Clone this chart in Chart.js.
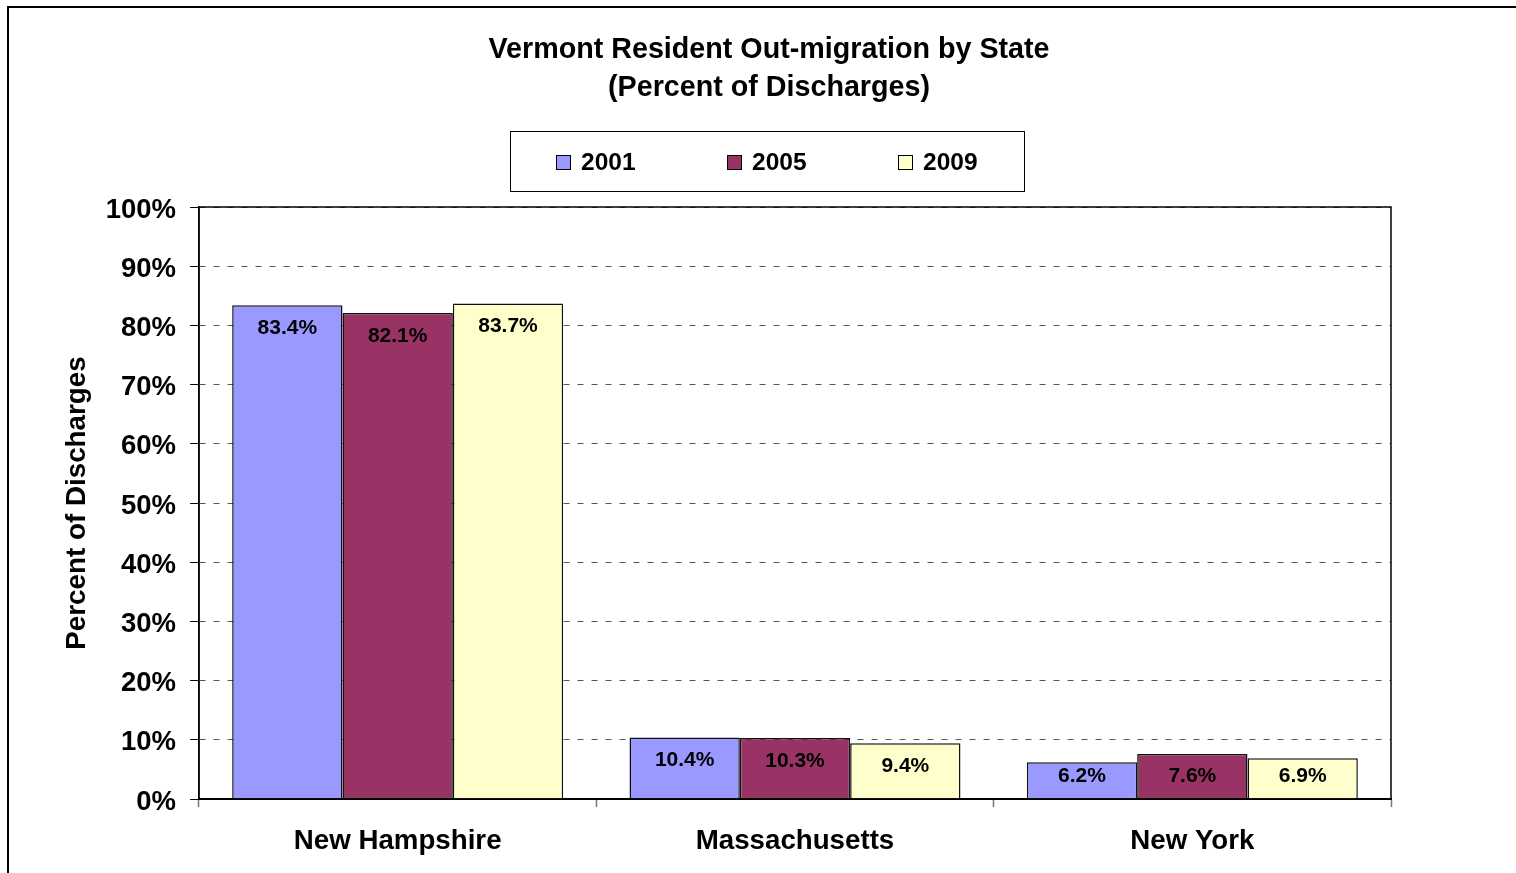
<!DOCTYPE html>
<html>
<head>
<meta charset="utf-8">
<script src="https://cdn.jsdelivr.net/npm/chart.js@4/dist/chart.umd.min.js"></script>
<style>
  html, body { margin: 0; padding: 0; background: #fff; overflow: hidden; }
  #wrap { position: relative; width: 1516px; height: 873px; }
</style>
</head>
<body>
<div id="wrap"><canvas id="chart"></canvas></div>
<script>
const categories = ['New Hampshire', 'Massachusetts', 'New York'];
const seriesNames = ['2001', '2005', '2009'];
const values2001 = [83.4, 10.4, 6.2];
const values2005 = [82.1, 10.3, 7.6];
const values2009 = [83.7, 9.4, 6.9];
const seriesColors = ['#9999FF', '#993366', '#FFFFCC'];
const titleLines = ['Vermont Resident Out-migration by State', '(Percent of Discharges)'];

const FONT = '"Liberation Sans", Arial, sans-serif';

// title, legend box, plot frame, value labels
const decor = {
    id: 'decor',
    beforeDraw(chart) {
        const ctx = chart.ctx;
        ctx.save();
        ctx.fillStyle = '#fff';
        ctx.fillRect(0, 0, chart.width, chart.height);
        ctx.strokeStyle = '#000';
        ctx.lineWidth = 2;
        ctx.strokeRect(8, 7, chart.width + 20, chart.height + 20);
        ctx.restore();
    },
    afterDatasetsDraw(chart) {
        const ctx = chart.ctx;
        const a = chart.chartArea;
        ctx.save();
        ctx.strokeStyle = '#000';
        ctx.lineWidth = 1.5;
        ctx.strokeRect(a.left, a.top, a.right - a.left, a.bottom - a.top);

        ctx.fillStyle = '#000';
        ctx.font = 'bold 21px ' + FONT;
        ctx.textAlign = 'center';
        ctx.textBaseline = 'middle';
        chart.data.datasets.forEach((ds, i) => {
            chart.getDatasetMeta(i).data.forEach((bar, j) => {
                // labels sit inside the bar, but never lower than 23px above the base
                const y = Math.min(bar.y + 23, a.bottom - 23);
                ctx.fillText(ds.data[j].toFixed(1) + '%', bar.x, y);
            });
        });
        ctx.restore();
    },
    afterDraw(chart) {
        const ctx = chart.ctx;
        ctx.save();
        ctx.fillStyle = '#000';
        ctx.textAlign = 'center';
        ctx.textBaseline = 'middle';
        ctx.font = 'bold 28.7px ' + FONT;
        ctx.fillText(titleLines[0], 769, 50);
        ctx.fillText(titleLines[1], 769, 88);

        // legend
        ctx.strokeStyle = '#000';
        ctx.lineWidth = 1;
        ctx.strokeRect(510.5, 131.5, 514, 60);
        ctx.font = 'bold 24.5px ' + FONT;
        ctx.textAlign = 'left';
        seriesNames.forEach((name, i) => {
            const x = 556 + i * 171;
            ctx.fillStyle = seriesColors[i];
            ctx.fillRect(x, 155, 15, 15);
            ctx.strokeRect(x + 0.5, 155.5, 14, 14);
            ctx.fillStyle = '#000';
            ctx.fillText(name, x + 25, 163);
        });
        ctx.restore();
    }
};

const series = [values2001, values2005, values2009];

new Chart(document.getElementById('chart'), {
    type: 'bar',
    data: {
        labels: categories,
        datasets: series.map((vals, i) => ({
            label: seriesNames[i],
            data: vals,
            backgroundColor: seriesColors[i],
            borderColor: '#111',
            borderWidth: 1.5,
            categoryPercentage: 0.833,
            barPercentage: 1
        }))
    },
    options: {
        responsive: true,
        maintainAspectRatio: false,
        animation: false,
        layout: {
            padding: { top: 207, right: 125, left: 0, bottom: 0 }
        },
        plugins: {
            legend: { display: false },
            title: { display: false },
            tooltip: { enabled: false }
        },
        scales: {
            x: {
                afterFit: (scale) => { scale.height = 74; },
                grid: {
                    offset: true,
                    drawOnChartArea: false,
                    drawTicks: true,
                    tickLength: 8,
                    tickColor: '#777',
                    tickWidth: 1.5
                },
                border: { color: '#000', width: 2 },
                ticks: {
                    color: '#000',
                    padding: 18,
                    font: { family: FONT, size: 27.7, weight: 'bold' }
                }
            },
            y: {
                min: 0,
                max: 100,
                afterFit: (scale) => { scale.width = 199; },
                grid: {
                    color: '#555',
                    lineWidth: 1,
                    tickLength: 9,
                    tickColor: '#000',
                    tickBorderDash: []
                },
                border: { color: '#000', width: 1.5, dash: [6, 8] },
                ticks: {
                    stepSize: 10,
                    color: '#000',
                    padding: 14,
                    labelOffset: 3,
                    font: { family: FONT, size: 27.5, weight: 'bold' },
                    callback: (v) => v + '%'
                },
                title: {
                    display: true,
                    text: 'Percent of Discharges',
                    color: '#000',
                    padding: { top: 61, bottom: 0 },
                    font: { family: FONT, size: 27.8, weight: 'bold' }
                }
            }
        }
    },
    plugins: [decor]
});
</script>
</body>
</html>
